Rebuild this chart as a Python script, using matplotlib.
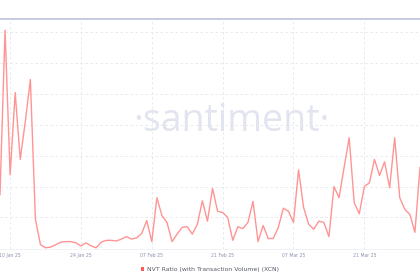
import matplotlib as mpl
mpl.use("Agg")
import matplotlib.pyplot as plt
import matplotlib.dates as mdates
from matplotlib.patches import Patch
import numpy as np
import pandas as pd

START = "2025-01-08"
NVT = [87, 353, 119, 252, 144, 205, 273, 47, 6, 1,
       2, 6, 10, 11, 11, 9, 4, 9, 4, 1,
       10, 13, 13, 12, 15, 19, 15, 17, 24, 45,
       11, 82, 53, 42, 11, 23, 34, 35, 23, 39,
       77, 44, 97, 60, 58, 50, 13, 35, 32, 42,
       76, 11, 37, 16, 16, 34, 65, 60, 42, 127,
       66, 39, 31, 44, 42, 19, 100, 82, 131, 179,
       74, 56, 100, 106, 144, 118, 140, 98, 179, 82,
       63, 55, 26, 131]
TICK_DATES = ["2025-01-10", "2025-01-24", "2025-02-07", "2025-02-21", "2025-03-07", "2025-03-21"]
LABEL = "NVT Ratio (with Transaction Volume) (XCN)"

dates = pd.date_range(START, periods=len(NVT), freq="D")

fig = plt.figure(figsize=(4.2, 2.8), dpi=100)
ax = fig.add_axes([0, 31 / 280, 1, 230 / 280])

ax.plot(dates, NVT, color="#ff9494", lw=1.0)

ax.set_xlim(dates[0], dates[-1])
ax.set_ylim(-1, 371)
ax.set_yticks(np.arange(50, 351, 50))
ax.set_xticks(pd.to_datetime(TICK_DATES))
ax.xaxis.set_major_formatter(mdates.DateFormatter("%d %b %y"))
ax.tick_params(axis="x", length=0, pad=3, labelsize=3.3, labelcolor="#8c92ad")
ax.tick_params(axis="y", length=0, labelleft=False)
ax.grid(True, ls=(0, (3, 3)), color="#e4e6ee", lw=0.6)

for side in ["left", "right"]:
    ax.spines[side].set_visible(False)
ax.spines["top"].set_color("#c3c7dc")
ax.spines["top"].set_linewidth(1.3)
ax.spines["bottom"].set_color("#eef0f5")
ax.spines["bottom"].set_linewidth(0.6)

ax.text(0.55, 0.555, "\u00b7santiment\u00b7", transform=ax.transAxes, ha="center", va="center",
        fontsize=27, color="#e2e5ef", family="Open Sans", zorder=0)

handle = Patch(facecolor="#ff5a5a", edgecolor="none", label=LABEL)
fig.legend(handles=[handle], loc="center", bbox_to_anchor=(0.5, 0.038), frameon=False,
           fontsize=4.4, handlelength=0.55, handleheight=0.55, handletextpad=0.5,
           labelcolor="#555a66")

fig.savefig("out.png", dpi=100)
